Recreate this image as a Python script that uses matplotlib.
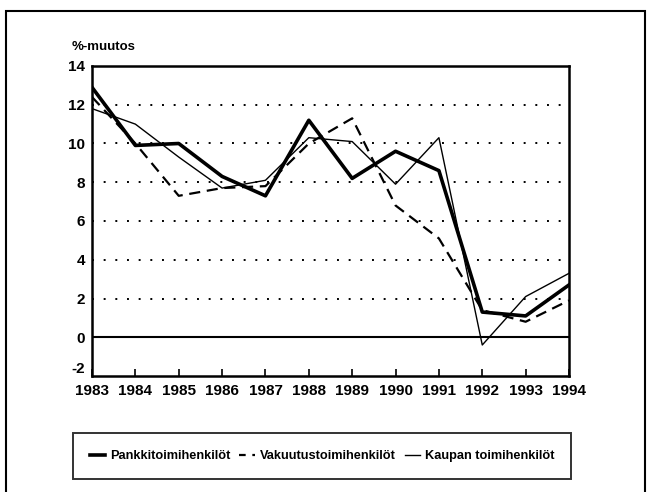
import matplotlib.pyplot as plt
from matplotlib.patches import Rectangle
from matplotlib.lines import Line2D

plt.rcParams['font.family'] = ['Liberation Sans', 'DejaVu Sans']
plt.rcParams['axes.unicode_minus'] = False

vuodet = [1983, 1984, 1985, 1986, 1987, 1988, 1989, 1990, 1991, 1992, 1993, 1994]
pankki = [12.9, 9.9, 10.0, 8.3, 7.3, 11.2, 8.2, 9.6, 8.6, 1.3, 1.1, 2.7]
vakuutus = [12.4, 10.0, 7.3, 7.7, 7.8, 10.0, 11.3, 6.8, 5.1, 1.4, 0.8, 1.9]
kauppa = [11.8, 11.0, 9.3, 7.7, 8.1, 10.3, 10.1, 7.9, 10.3, -0.4, 2.1, 3.3]
nimet = ['Pankkitoimihenkilöt', 'Vakuutustoimihenkilöt', 'Kaupan toimihenkilöt']
yticks = [-2, 0, 2, 4, 6, 8, 10, 12, 14]

fig = plt.figure(figsize=(6.51, 4.92), dpi=100)
ax = fig.add_axes([92 / 651, 116 / 492, 477 / 651, 310 / 492])

# katkoviivat 2..12
for y in yticks[2:-1]:
    ax.axhline(y, color='black', lw=1.4, ls=(0, (1, 5)), zorder=1)
ax.axhline(0, color='black', lw=1.5, zorder=1)

ax.plot(vuodet, kauppa, color='black', lw=1.0, zorder=3)
ax.plot(vuodet, vakuutus, color='black', lw=1.6, ls=(0, (5, 3)), zorder=3)
ax.plot(vuodet, pankki, color='black', lw=2.6, zorder=4)

ax.set_xlim(1983, 1994)
ax.set_ylim(-2, 14)
ax.set_xticks(vuodet)
ax.set_yticks(yticks)
ax.tick_params(axis='x', direction='in', length=5, width=1.2, pad=6, labelsize=11)
ax.tick_params(axis='y', length=0, pad=5, labelsize=11)
for lab in ax.get_xticklabels() + ax.get_yticklabels():
    lab.set_fontweight('bold')
ax.get_yticklabels()[0].set_va('bottom')
for s in ax.spines.values():
    s.set_linewidth(1.8)

fig.text(72 / 651, 1 - 47 / 492, '%-muutos', fontsize=9.5, fontweight='bold', va='center', ha='left')

# legenda
kahvat = [Line2D([], [], color='black', lw=2.6),
          Line2D([], [], color='black', lw=1.6, ls=(0, (3, 3))),
          Line2D([], [], color='black', lw=1.0)]
leg = fig.legend(kahvat, nimet, ncol=3, loc='center',
                 bbox_to_anchor=(322 / 651, 1 - 456 / 492),
                 frameon=True, fancybox=False, edgecolor='black',
                 handlelength=1.2, handletextpad=0.4, columnspacing=0.7,
                 borderpad=1.3, prop={'size': 9.2, 'weight': 'bold'})
leg.get_frame().set_linewidth(1.4)

# ulkokehys
fig.patches.append(Rectangle((6 / 651, -0.1), 639 / 651, 1.1 - 11 / 492,
                             transform=fig.transFigure, fill=False,
                             edgecolor='black', lw=1.5))

fig.savefig('out.png', dpi=100)
